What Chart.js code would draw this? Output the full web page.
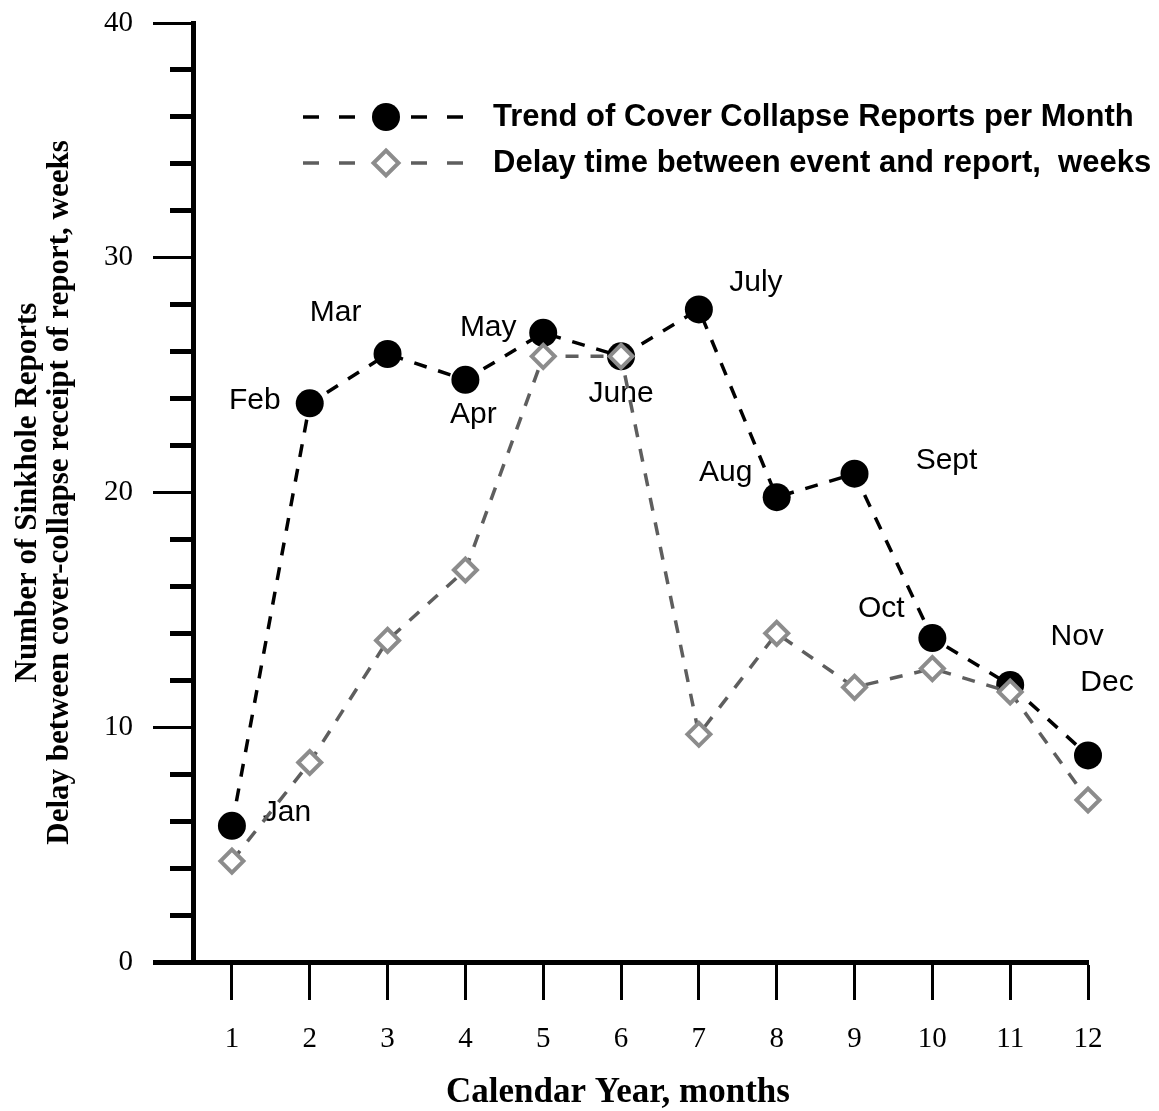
<!DOCTYPE html>
<html>
<head>
<meta charset="utf-8">
<title>Sinkhole reports by month</title>
<script src="https://cdn.jsdelivr.net/npm/chart.js@4.4.1/dist/chart.umd.min.js"></script>
<style>
  html, body { margin: 0; padding: 0; background: #fff; }
</style>
</head>
<body>
<canvas id="sinkholeChart" width="1159" height="1111"></canvas>
<script>
// months on the x axis
const months = [1, 2, 3, 4, 5, 6, 7, 8, 9, 10, 11, 12]
const monthNames = ['Jan', 'Feb', 'Mar', 'Apr', 'May', 'June', 'July', 'Aug', 'Sept', 'Oct', 'Nov', 'Dec']

// series
const coverCollapseReports = [5.8, 23.8, 25.9, 24.8, 26.8, 25.8, 27.8, 19.8, 20.8, 13.8, 11.8, 8.8]
const delayWeeks = [4.3, 8.5, 13.7, 16.7, 25.8, 25.8, 9.7, 14.0, 11.7, 12.5, 11.5, 6.9]

const seriesNames = [
  'Trend of Cover Collapse Reports per Month',
  'Delay time between event and report,  weeks'
]

const yMin = 0
const yMax = 40
const yMinorStep = 2
const yMajorStep = 10

// where each month name sits relative to its black dot (dx, dy)
const monthLabelOffsets = [
  [55, -13], [-55, -3], [-52, -41], [8, 35], [-55, -5], [0, 37],
  [57, -27], [-51, -24], [92, -13], [-51, -29], [67, -48], [19, -73]
]

const serif = "'Liberation Serif', 'Times New Roman', serif"
const sans = "'Liberation Sans', Arial, sans-serif"

// month names beside the black points
const monthLabelPlugin = {
  id: 'monthLabels',
  beforeDatasetsDraw(chart) {
    const ctx = chart.ctx
    const meta = chart.getDatasetMeta(0)
    ctx.save()
    ctx.font = '30px ' + sans
    ctx.fillStyle = '#000'
    ctx.textAlign = 'center'
    ctx.textBaseline = 'middle'
    meta.data.forEach((pt, i) => {
      const off = monthLabelOffsets[i]
      ctx.fillText(monthNames[i], pt.x + off[0], pt.y + off[1])
    })
    ctx.restore()
  }
}

// legend: dashed line with marker in the middle, bold text on the right
const lineLegendPlugin = {
  id: 'lineLegend',
  afterDraw(chart) {
    const ctx = chart.ctx
    const rows = [117, 163]
    chart.data.datasets.forEach((ds, i) => {
      const y = rows[i]
      ctx.save()
      ctx.strokeStyle = ds.borderColor
      ctx.lineWidth = ds.borderWidth
      ctx.setLineDash([16, 20])
      ctx.beginPath()
      ctx.moveTo(303, y)
      ctx.lineTo(467, y)
      ctx.stroke()
      ctx.setLineDash([])
      const cx = 386
      const r = ds.pointStyle === 'circle' ? ds.pointRadius : ds.pointRadius + 1
      ctx.beginPath()
      if (ds.pointStyle === 'circle') {
        ctx.arc(cx, y, r, 0, Math.PI * 2)
      } else {
        ctx.moveTo(cx, y - r)
        ctx.lineTo(cx + r, y)
        ctx.lineTo(cx, y + r)
        ctx.lineTo(cx - r, y)
        ctx.closePath()
      }
      ctx.fillStyle = ds.pointBackgroundColor
      ctx.fill()
      if (ds.pointBorderWidth) {
        ctx.lineWidth = ds.pointBorderWidth
        ctx.strokeStyle = ds.pointBorderColor
        ctx.stroke()
      }
      ctx.font = 'bold 31px ' + sans
      ctx.fillStyle = '#000'
      ctx.textAlign = 'left'
      ctx.textBaseline = 'middle'
      ctx.fillText(ds.label, 493, y)
      ctx.restore()
    })
  }
}

// x title sits a little left of the axis centre in the original
const xTitlePlugin = {
  id: 'xTitle',
  afterDraw(chart) {
    const ctx = chart.ctx
    ctx.save()
    ctx.font = 'bold 35px ' + serif
    ctx.fillStyle = '#000'
    ctx.textAlign = 'center'
    ctx.textBaseline = 'middle'
    ctx.fillText('Calendar Year, months', 618, 1093)
    ctx.restore()
  }
}

const ctx = document.getElementById('sinkholeChart').getContext('2d')

new Chart(ctx, {
  type: 'line',
  data: {
    labels: months,
    datasets: [
      {
        label: seriesNames[0],
        data: coverCollapseReports,
        order: 1,
        borderColor: '#000',
        borderWidth: 3.5,
        borderDash: [13, 12],
        pointStyle: 'circle',
        pointRadius: 14,
        pointBackgroundColor: '#000',
        pointBorderColor: '#000',
        pointBorderWidth: 0,
        tension: 0,
        clip: false
      },
      {
        label: seriesNames[1],
        data: delayWeeks,
        order: 0,
        borderColor: '#5e5e5e',
        borderWidth: 3.5,
        borderDash: [13, 12],
        pointStyle: 'rectRot',
        pointRadius: 11.5,
        pointBackgroundColor: '#fff',
        pointBorderColor: '#8c8c8c',
        pointBorderWidth: 4,
        tension: 0,
        clip: false
      }
    ]
  },
  options: {
    responsive: false,
    animation: false,
    devicePixelRatio: 1,
    layout: { padding: { top: 23, right: 71, left: 0, bottom: 0 } },
    plugins: {
      legend: { display: false },
      tooltip: { enabled: false }
    },
    scales: {
      x: {
        type: 'linear',
        min: 0.5,
        max: 12,
        afterBuildTicks: scale => { scale.ticks = months.map(v => ({ value: v })) },
        afterFit: scale => {
          scale.height = 149
          scale.paddingLeft = 0
          scale.paddingRight = 0
        },
        border: { display: true, color: '#000', width: 5 },
        grid: {
          drawOnChartArea: false,
          tickLength: 38,
          tickWidth: 3,
          tickColor: '#000'
        },
        ticks: {
          autoSkip: false,
          maxRotation: 0,
          padding: 22,
          color: '#000',
          font: { family: serif, size: 29 }
        }
      },
      y: {
        min: yMin,
        max: yMax,
        afterFit: scale => {
          scale.width = 193
          scale.paddingTop = 0
          scale.paddingBottom = 0
        },
        border: { display: true, color: '#000', width: 5 },
        grid: {
          drawOnChartArea: false,
          tickLength: 40,
          tickColor: '#000',
          tickWidth: c => (c.tick && c.tick.value % yMajorStep !== 0) ? 5 : (c.tick && c.tick.value === 0 ? 5 : 3),
          tickBorderDash: c => (c.tick && c.tick.value % yMajorStep !== 0) ? [0, 17, 60] : []
        },
        ticks: {
          stepSize: yMinorStep,
          autoSkip: false,
          padding: 20,
          color: '#000',
          font: { family: serif, size: 29 },
          callback: v => v % yMajorStep === 0 ? v : ''
        },
        title: {
          display: true,
          text: ['Number of Sinkhole Reports', 'Delay between cover-collapse receipt of report, weeks'],
          color: '#000',
          font: { family: serif, size: 31, weight: 'bold', lineHeight: 1.03 },
          padding: { top: 12, bottom: 0 }
        }
      }
    }
  },
  plugins: [monthLabelPlugin, lineLegendPlugin, xTitlePlugin]
})
</script>
</body>
</html>
